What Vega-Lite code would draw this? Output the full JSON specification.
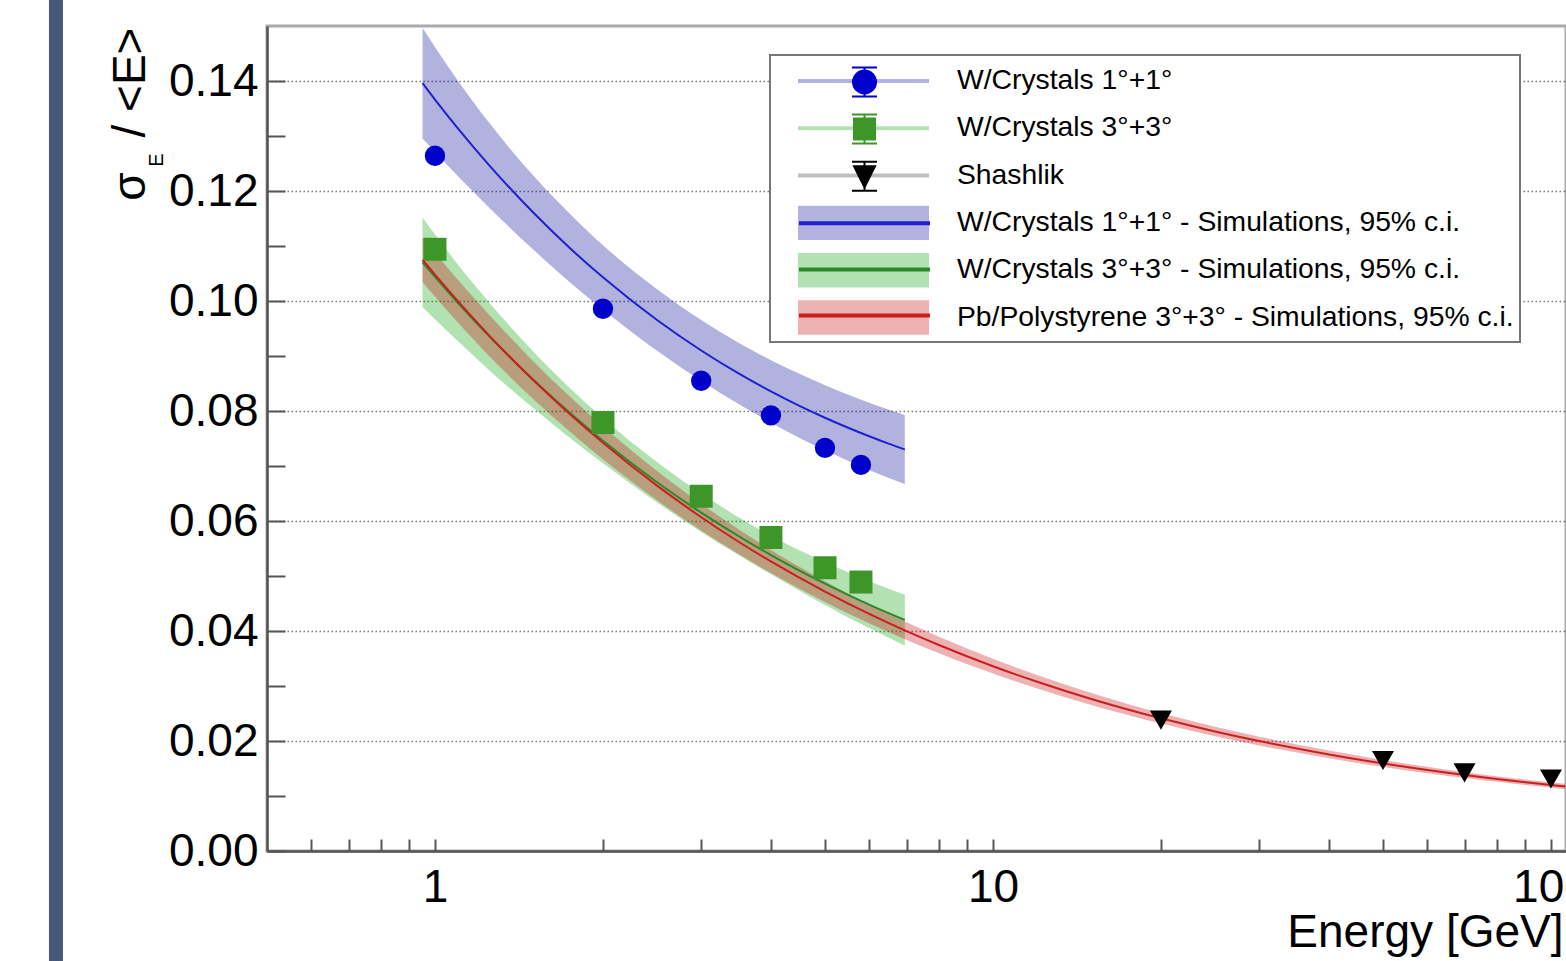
{
  "$schema": "https://vega.github.io/schema/vega-lite/v6.json",
  "width": 1299,
  "height": 825,
  "autosize": {"type": "none"},
  "padding": {"left": 267, "top": 26, "right": 0, "bottom": 110},
  "background": "white",
  "config": {
    "view": {"stroke": "#aaaaaa", "strokeWidth": 3},
    "axis": {
      "labelFont": "Liberation Sans", "titleFont": "Liberation Sans",
      "labelColor": "#000000", "titleColor": "#000000",
      "domainColor": "#555555", "domainWidth": 2.5,
      "tickColor": "#555555", "tickWidth": 2,
      "labelFontSize": 46, "titleFontSize": 46, "titleFontWeight": "normal"
    },
    "legend": {"labelFont": "Liberation Sans"}
  },
  "datasets": {
    "curves": [
      {"s": "W/Crystals 1°+1° - Simulations, 95% c.i.", "E": 0.95, "y": 0.1396, "lo": 0.12955, "hi": 0.14965},
      {"s": "W/Crystals 1°+1° - Simulations, 95% c.i.", "E": 1, "y": 0.13663, "lo": 0.12707, "hi": 0.14619},
      {"s": "W/Crystals 1°+1° - Simulations, 95% c.i.", "E": 1.1, "y": 0.13135, "lo": 0.12268, "hi": 0.14002},
      {"s": "W/Crystals 1°+1° - Simulations, 95% c.i.", "E": 1.25, "y": 0.12471, "lo": 0.11698, "hi": 0.13244},
      {"s": "W/Crystals 1°+1° - Simulations, 95% c.i.", "E": 1.5, "y": 0.11608, "lo": 0.10935, "hi": 0.12281},
      {"s": "W/Crystals 1°+1° - Simulations, 95% c.i.", "E": 1.75, "y": 0.1095, "lo": 0.10326, "hi": 0.11574},
      {"s": "W/Crystals 1°+1° - Simulations, 95% c.i.", "E": 2, "y": 0.1043, "lo": 0.09846, "hi": 0.11014},
      {"s": "W/Crystals 1°+1° - Simulations, 95% c.i.", "E": 2.5, "y": 0.09654, "lo": 0.09094, "hi": 0.10214},
      {"s": "W/Crystals 1°+1° - Simulations, 95% c.i.", "E": 3, "y": 0.091, "lo": 0.08545, "hi": 0.09655},
      {"s": "W/Crystals 1°+1° - Simulations, 95% c.i.", "E": 3.5, "y": 0.08683, "lo": 0.08127, "hi": 0.09239},
      {"s": "W/Crystals 1°+1° - Simulations, 95% c.i.", "E": 4, "y": 0.08356, "lo": 0.07788, "hi": 0.08924},
      {"s": "W/Crystals 1°+1° - Simulations, 95% c.i.", "E": 4.5, "y": 0.08093, "lo": 0.0751, "hi": 0.08676},
      {"s": "W/Crystals 1°+1° - Simulations, 95% c.i.", "E": 5, "y": 0.07877, "lo": 0.07286, "hi": 0.08468},
      {"s": "W/Crystals 1°+1° - Simulations, 95% c.i.", "E": 5.5, "y": 0.07695, "lo": 0.07095, "hi": 0.08295},
      {"s": "W/Crystals 1°+1° - Simulations, 95% c.i.", "E": 6, "y": 0.0754, "lo": 0.06929, "hi": 0.08151},
      {"s": "W/Crystals 1°+1° - Simulations, 95% c.i.", "E": 6.5, "y": 0.07406, "lo": 0.06784, "hi": 0.08028},
      {"s": "W/Crystals 1°+1° - Simulations, 95% c.i.", "E": 6.95, "y": 0.07301, "lo": 0.06673, "hi": 0.07929},
      {"s": "W/Crystals 3°+3° - Simulations, 95% c.i.", "E": 0.95, "y": 0.10704, "lo": 0.09891, "hi": 0.11518},
      {"s": "W/Crystals 3°+3° - Simulations, 95% c.i.", "E": 1, "y": 0.10439, "lo": 0.09667, "hi": 0.11212},
      {"s": "W/Crystals 3°+3° - Simulations, 95% c.i.", "E": 1.1, "y": 0.09963, "lo": 0.09266, "hi": 0.1066},
      {"s": "W/Crystals 3°+3° - Simulations, 95% c.i.", "E": 1.25, "y": 0.09361, "lo": 0.08743, "hi": 0.09979},
      {"s": "W/Crystals 3°+3° - Simulations, 95% c.i.", "E": 1.5, "y": 0.08568, "lo": 0.08054, "hi": 0.09082},
      {"s": "W/Crystals 3°+3° - Simulations, 95% c.i.", "E": 1.75, "y": 0.07953, "lo": 0.075, "hi": 0.08406},
      {"s": "W/Crystals 3°+3° - Simulations, 95% c.i.", "E": 2, "y": 0.07459, "lo": 0.07049, "hi": 0.07869},
      {"s": "W/Crystals 3°+3° - Simulations, 95% c.i.", "E": 2.5, "y": 0.06705, "lo": 0.06336, "hi": 0.07074},
      {"s": "W/Crystals 3°+3° - Simulations, 95% c.i.", "E": 3, "y": 0.06152, "lo": 0.05801, "hi": 0.06503},
      {"s": "W/Crystals 3°+3° - Simulations, 95% c.i.", "E": 3.5, "y": 0.05725, "lo": 0.05382, "hi": 0.06069},
      {"s": "W/Crystals 3°+3° - Simulations, 95% c.i.", "E": 4, "y": 0.05381, "lo": 0.05031, "hi": 0.05731},
      {"s": "W/Crystals 3°+3° - Simulations, 95% c.i.", "E": 4.5, "y": 0.05099, "lo": 0.04732, "hi": 0.05466},
      {"s": "W/Crystals 3°+3° - Simulations, 95% c.i.", "E": 5, "y": 0.04861, "lo": 0.04472, "hi": 0.0525},
      {"s": "W/Crystals 3°+3° - Simulations, 95% c.i.", "E": 5.5, "y": 0.04657, "lo": 0.04247, "hi": 0.05067},
      {"s": "W/Crystals 3°+3° - Simulations, 95% c.i.", "E": 6, "y": 0.0448, "lo": 0.04054, "hi": 0.04906},
      {"s": "W/Crystals 3°+3° - Simulations, 95% c.i.", "E": 6.5, "y": 0.04324, "lo": 0.03879, "hi": 0.04769},
      {"s": "W/Crystals 3°+3° - Simulations, 95% c.i.", "E": 6.95, "y": 0.042, "lo": 0.03738, "hi": 0.04662},
      {"s": "Pb/Polystyrene 3°+3° - Simulations, 95% c.i.", "E": 0.95, "y": 0.1075, "lo": 0.10341, "hi": 0.11159},
      {"s": "Pb/Polystyrene 3°+3° - Simulations, 95% c.i.", "E": 1, "y": 0.10479, "lo": 0.10081, "hi": 0.10877},
      {"s": "Pb/Polystyrene 3°+3° - Simulations, 95% c.i.", "E": 1.1, "y": 0.09993, "lo": 0.09603, "hi": 0.10383},
      {"s": "Pb/Polystyrene 3°+3° - Simulations, 95% c.i.", "E": 1.25, "y": 0.09376, "lo": 0.09001, "hi": 0.09751},
      {"s": "Pb/Polystyrene 3°+3° - Simulations, 95% c.i.", "E": 1.5, "y": 0.08563, "lo": 0.0822, "hi": 0.08906},
      {"s": "Pb/Polystyrene 3°+3° - Simulations, 95% c.i.", "E": 1.75, "y": 0.07931, "lo": 0.07614, "hi": 0.08248},
      {"s": "Pb/Polystyrene 3°+3° - Simulations, 95% c.i.", "E": 2, "y": 0.07421, "lo": 0.07124, "hi": 0.07718},
      {"s": "Pb/Polystyrene 3°+3° - Simulations, 95% c.i.", "E": 2.5, "y": 0.06643, "lo": 0.06377, "hi": 0.06909},
      {"s": "Pb/Polystyrene 3°+3° - Simulations, 95% c.i.", "E": 3, "y": 0.06069, "lo": 0.05826, "hi": 0.06312},
      {"s": "Pb/Polystyrene 3°+3° - Simulations, 95% c.i.", "E": 3.5, "y": 0.05623, "lo": 0.05398, "hi": 0.05848},
      {"s": "Pb/Polystyrene 3°+3° - Simulations, 95% c.i.", "E": 4, "y": 0.05264, "lo": 0.05053, "hi": 0.05475},
      {"s": "Pb/Polystyrene 3°+3° - Simulations, 95% c.i.", "E": 5, "y": 0.04716, "lo": 0.04527, "hi": 0.04905},
      {"s": "Pb/Polystyrene 3°+3° - Simulations, 95% c.i.", "E": 6, "y": 0.04311, "lo": 0.04139, "hi": 0.04483},
      {"s": "Pb/Polystyrene 3°+3° - Simulations, 95% c.i.", "E": 7, "y": 0.03998, "lo": 0.03838, "hi": 0.04158},
      {"s": "Pb/Polystyrene 3°+3° - Simulations, 95% c.i.", "E": 8, "y": 0.03745, "lo": 0.03595, "hi": 0.03895},
      {"s": "Pb/Polystyrene 3°+3° - Simulations, 95% c.i.", "E": 10, "y": 0.0336, "lo": 0.03226, "hi": 0.03494},
      {"s": "Pb/Polystyrene 3°+3° - Simulations, 95% c.i.", "E": 12, "y": 0.03077, "lo": 0.02954, "hi": 0.032},
      {"s": "Pb/Polystyrene 3°+3° - Simulations, 95% c.i.", "E": 15, "y": 0.02764, "lo": 0.02653, "hi": 0.02875},
      {"s": "Pb/Polystyrene 3°+3° - Simulations, 95% c.i.", "E": 20, "y": 0.02412, "lo": 0.02316, "hi": 0.02508},
      {"s": "Pb/Polystyrene 3°+3° - Simulations, 95% c.i.", "E": 25, "y": 0.02173, "lo": 0.02086, "hi": 0.0226},
      {"s": "Pb/Polystyrene 3°+3° - Simulations, 95% c.i.", "E": 30, "y": 0.01999, "lo": 0.01919, "hi": 0.02079},
      {"s": "Pb/Polystyrene 3°+3° - Simulations, 95% c.i.", "E": 40, "y": 0.01756, "lo": 0.01686, "hi": 0.01826},
      {"s": "Pb/Polystyrene 3°+3° - Simulations, 95% c.i.", "E": 50, "y": 0.01592, "lo": 0.01528, "hi": 0.01656},
      {"s": "Pb/Polystyrene 3°+3° - Simulations, 95% c.i.", "E": 60, "y": 0.01473, "lo": 0.01414, "hi": 0.01532},
      {"s": "Pb/Polystyrene 3°+3° - Simulations, 95% c.i.", "E": 70, "y": 0.01382, "lo": 0.01327, "hi": 0.01437},
      {"s": "Pb/Polystyrene 3°+3° - Simulations, 95% c.i.", "E": 80, "y": 0.01309, "lo": 0.01257, "hi": 0.01361},
      {"s": "Pb/Polystyrene 3°+3° - Simulations, 95% c.i.", "E": 90, "y": 0.01249, "lo": 0.01199, "hi": 0.01299},
      {"s": "Pb/Polystyrene 3°+3° - Simulations, 95% c.i.", "E": 100, "y": 0.012, "lo": 0.01152, "hi": 0.01248},
      {"s": "Pb/Polystyrene 3°+3° - Simulations, 95% c.i.", "E": 106, "y": 0.01174, "lo": 0.01127, "hi": 0.01221}
    ],
    "points": [
      {"s": "W/Crystals 1°+1°", "E": 1, "y": 0.1264},
      {"s": "W/Crystals 1°+1°", "E": 2, "y": 0.0986},
      {"s": "W/Crystals 1°+1°", "E": 3, "y": 0.0855},
      {"s": "W/Crystals 1°+1°", "E": 4, "y": 0.0792},
      {"s": "W/Crystals 1°+1°", "E": 5, "y": 0.0733},
      {"s": "W/Crystals 1°+1°", "E": 5.8, "y": 0.0702},
      {"s": "W/Crystals 3°+3°", "E": 1, "y": 0.1094},
      {"s": "W/Crystals 3°+3°", "E": 2, "y": 0.0779},
      {"s": "W/Crystals 3°+3°", "E": 3, "y": 0.0645},
      {"s": "W/Crystals 3°+3°", "E": 4, "y": 0.057},
      {"s": "W/Crystals 3°+3°", "E": 5, "y": 0.0515},
      {"s": "W/Crystals 3°+3°", "E": 5.8, "y": 0.0489},
      {"s": "Shashlik", "E": 20, "y": 0.0238},
      {"s": "Shashlik", "E": 50, "y": 0.01645},
      {"s": "Shashlik", "E": 70, "y": 0.0142},
      {"s": "Shashlik", "E": 100, "y": 0.0131}
    ]
  },
  "layer": [
    {
      "data": {"name": "curves"},
      "transform": [{"filter": {"field": "s", "equal": "W/Crystals 1°+1° - Simulations, 95% c.i."}}],
      "mark": {"type": "area", "fillOpacity": 0.3, "interpolate": "monotone"},
      "encoding": {
        "x": {"field": "E", "type": "quantitative",
          "scale": {"type": "log", "domain": [0.5, 106.4], "nice": false},
          "axis": {
            "values": [0.6, 0.7, 0.8, 0.9, 1, 2, 3, 4, 5, 6, 7, 8, 9, 10, 20, 30, 40, 50, 60, 70, 80, 90, 100],
            "labelExpr": "(datum.value == 1 || datum.value == 10 || datum.value == 100) ? '' + datum.value : ''",
            "tickSize": -12, "labelPadding": 26, "labelOverlap": false, "labelFlush": false, "labelBaseline": "top",
            "grid": false,
            "title": "Energy [GeV]", "titleAnchor": "end", "titleAlign": "right", "titleX": 1296, "titleY": 95, "titleBaseline": "alphabetic",
            "encode": {"ticks": {"update": {"y2": {"signal": "(datum.value == 1 || datum.value == 10 || datum.value == 100) ? -24 : -12"}}}}
          }
        },
        "y": {"field": "lo", "type": "quantitative",
          "scale": {"domain": [0, 0.15], "nice": false, "zero": false},
          "axis": {
            "values": [0, 0.005, 0.01, 0.015, 0.02, 0.025, 0.03, 0.035, 0.04, 0.045, 0.05, 0.055, 0.06, 0.065, 0.07, 0.075, 0.08, 0.085, 0.09, 0.095, 0.1, 0.105, 0.11, 0.115, 0.12, 0.125, 0.13, 0.135, 0.14, 0.145],
            "labelExpr": "abs(datum.value*50 - round(datum.value*50)) < 0.001 ? format(datum.value, '.2f') : ''",
            "tickSize": -18, "labelPadding": 27, "labelOverlap": false, "labelFlush": false,
            "grid": true, "gridColor": "#777777", "gridDash": [1.5, 2.5], "gridWidth": 1.4,
            "gridOpacity": {"condition": {"test": "abs(datum.value*50 - round(datum.value*50)) < 0.001", "value": 1}, "value": 0},
            "title": "σ\u00a0\u00a0\u2009/ <E>", "titleX": -123, "titleY": 1, "titleAngle": 270, "titleAlign": "right", "titleBaseline": "alphabetic",
            "encode": {"ticks": {"update": {"x2": {"signal": "abs(datum.value*50 - round(datum.value*50)) < 0.001 ? 37 : 18"}}}}
          }
        },
        "y2": {"field": "hi"},
        "fill": {"field": "s", "type": "nominal",
          "scale": {
            "domain": ["W/Crystals 1°+1°", "W/Crystals 3°+3°", "Shashlik", "W/Crystals 1°+1° - Simulations, 95% c.i.", "W/Crystals 3°+3° - Simulations, 95% c.i.", "Pb/Polystyrene 3°+3° - Simulations, 95% c.i."],
            "range": ["#0000b4", "#00a000", "#282828", "#000096", "#00a000", "#c80000"]
          },
          "legend": {
            "title": null, "orient": "none", "legendX": 503, "legendY": 29, "direction": "vertical",
            "padding": 6, "rowPadding": 9.3, "symbolSize": 1600, "symbolStrokeWidth": 2, "symbolOffset": 67.5,
            "labelFontSize": 28.3, "labelFont": "Liberation Sans", "labelColor": "#000000", "labelLimit": 1000, "labelOffset": 73.5,
            "fillColor": "white", "strokeColor": "#777777", "zindex": 1,
            "encode": {
              "symbols": {"update": {
                "shape": {"signal": "datum.index < 3 ? 'M-3.275,-0.885M-3.275,0.885M-3.275,-0.1H3.275V0.1H-3.275Z' : 'M-3.275,-0.885M-3.275,0.885M-3.275,-0.86H3.275V0.86H-3.275Z'"},
                "fill": {"scale": "fill", "field": "value"},
                "fillOpacity": {"value": 0.3},
                "opacity": {"value": 1},
                "stroke": {"value": "transparent"},
                "strokeWidth": {"value": 0}
              }},
              "legend": {"update": {"strokeWidth": {"value": 2}}}
            }
          }
        }
      }
    },
    {
      "data": {"name": "curves"},
      "transform": [{"filter": {"field": "s", "equal": "W/Crystals 3°+3° - Simulations, 95% c.i."}}],
      "mark": {"type": "area", "fillOpacity": 0.3, "interpolate": "monotone"},
      "encoding": {
        "x": {"field": "E", "type": "quantitative", "scale": {"type": "log", "domain": [0.5, 106.4], "nice": false}},
        "y": {"field": "lo", "type": "quantitative", "scale": {"domain": [0, 0.15], "nice": false, "zero": false}},
        "y2": {"field": "hi"},
        "fill": {"field": "s", "type": "nominal"}
      }
    },
    {
      "data": {"name": "curves"},
      "transform": [{"filter": {"field": "s", "equal": "Pb/Polystyrene 3°+3° - Simulations, 95% c.i."}}],
      "mark": {"type": "area", "fillOpacity": 0.3, "interpolate": "monotone"},
      "encoding": {
        "x": {"field": "E", "type": "quantitative", "scale": {"type": "log", "domain": [0.5, 106.4], "nice": false}},
        "y": {"field": "lo", "type": "quantitative", "scale": {"domain": [0, 0.15], "nice": false, "zero": false}},
        "y2": {"field": "hi"},
        "fill": {"field": "s", "type": "nominal"}
      }
    },
    {
      "data": {"name": "curves"},
      "transform": [{"filter": {"field": "s", "equal": "W/Crystals 1°+1° - Simulations, 95% c.i."}}],
      "mark": {"type": "line", "strokeWidth": 2, "interpolate": "monotone"},
      "encoding": {
        "x": {"field": "E", "type": "quantitative", "scale": {"type": "log", "domain": [0.5, 106.4], "nice": false}},
        "y": {"field": "y", "type": "quantitative", "scale": {"domain": [0, 0.15], "nice": false, "zero": false}},
        "stroke": {"field": "s", "type": "nominal",
          "scale": {
            "domain": ["W/Crystals 1°+1°", "W/Crystals 3°+3°", "Shashlik", "W/Crystals 1°+1° - Simulations, 95% c.i.", "W/Crystals 3°+3° - Simulations, 95% c.i.", "Pb/Polystyrene 3°+3° - Simulations, 95% c.i.", "·"],
            "range": ["#0000cc", "#3c9628", "#000000", "#2020d0", "#2a8a2a", "#c82020", "#ffffff"]
          },
          "legend": {
            "title": null, "orient": "none", "legendX": 503, "legendY": 29, "direction": "vertical",
            "values": ["W/Crystals 1°+1°", "W/Crystals 3°+3°", "Shashlik", "W/Crystals 1°+1° - Simulations, 95% c.i.", "W/Crystals 3°+3° - Simulations, 95% c.i.", "Pb/Polystyrene 3°+3° - Simulations, 95% c.i."],
            "padding": 6, "rowPadding": 6.1, "symbolSize": 1600, "symbolStrokeWidth": 2, "symbolOffset": 67.5,
            "labelFontSize": 28.3, "labelFont": "Liberation Sans", "labelLimit": 1000, "labelOffset": 73.5, "labelExpr": "''",
            "zindex": 2,
            "encode": {
              "symbols": {"update": {
                "shape": {"signal": "['M0,-0.785M0,0.785M-0.575,0A0.575,0.575,0,1,0,0.575,0A0.575,0.575,0,1,0,-0.575,0ZM0,-0.725V-0.575M0,0.575V0.725M-0.625,-0.725H0.625M-0.625,0.725H0.625', 'M0,-0.785M0,0.785M-0.525,-0.525H0.525V0.525H-0.525ZM0,-0.725V-0.525M0,0.525V0.725M-0.625,-0.725H0.625M-0.625,0.725H0.625', 'M0,-0.785M0,0.785M-0.525,-0.5H0.525L0,0.55ZM0,-0.725V-0.5M0,0.55V0.725M-0.625,-0.725H0.625M-0.625,0.725H0.625', 'M0,-0.725L0,-0.725M0,0.725L0,0.725M-3.225,-0.05H3.225V0.05H-3.225Z', 'M0,-0.725L0,-0.725M0,0.725L0,0.725M-3.225,-0.05H3.225V0.05H-3.225Z', 'M0,-0.725L0,-0.725M0,0.725L0,0.725M-3.225,-0.05H3.225V0.05H-3.225Z'][datum.index]"},
                "fill": {"signal": "['#0000cc', '#3c9628', '#000000', '#2020d0', '#2a8a2a', '#c82020'][datum.index]"},
                "stroke": {"signal": "['#0000cc', '#3c9628', '#000000', '#2020d0', '#2a8a2a', '#c82020'][datum.index]"},
                "strokeWidth": {"value": 2},
                "strokeCap": {"value": "butt"},
                "fillOpacity": {"value": 1},
                "strokeOpacity": {"value": 1},
                "opacity": {"value": 1}
              }}
            }
          }
        }
      }
    },
    {
      "data": {"name": "curves"},
      "transform": [{"filter": {"field": "s", "equal": "W/Crystals 3°+3° - Simulations, 95% c.i."}}],
      "mark": {"type": "line", "strokeWidth": 2, "interpolate": "monotone"},
      "encoding": {
        "x": {"field": "E", "type": "quantitative", "scale": {"type": "log", "domain": [0.5, 106.4], "nice": false}},
        "y": {"field": "y", "type": "quantitative", "scale": {"domain": [0, 0.15], "nice": false, "zero": false}},
        "stroke": {"field": "s", "type": "nominal"}
      }
    },
    {
      "data": {"name": "curves"},
      "transform": [{"filter": {"field": "s", "equal": "Pb/Polystyrene 3°+3° - Simulations, 95% c.i."}}],
      "mark": {"type": "line", "strokeWidth": 2, "interpolate": "monotone"},
      "encoding": {
        "x": {"field": "E", "type": "quantitative", "scale": {"type": "log", "domain": [0.5, 106.4], "nice": false}},
        "y": {"field": "y", "type": "quantitative", "scale": {"domain": [0, 0.15], "nice": false, "zero": false}},
        "stroke": {"field": "s", "type": "nominal"}
      }
    },
    {
      "data": {"name": "points"},
      "transform": [{"filter": {"field": "s", "equal": "W/Crystals 1°+1°"}}],
      "mark": {"type": "point", "shape": "circle", "filled": true, "color": "#0000cc", "size": 415, "opacity": 1},
      "encoding": {
        "x": {"field": "E", "type": "quantitative", "scale": {"type": "log", "domain": [0.5, 106.4], "nice": false}},
        "y": {"field": "y", "type": "quantitative", "scale": {"domain": [0, 0.15], "nice": false, "zero": false}}
      }
    },
    {
      "data": {"name": "points"},
      "transform": [{"filter": {"field": "s", "equal": "W/Crystals 3°+3°"}}],
      "mark": {"type": "point", "shape": "square", "filled": true, "color": "#3c9628", "size": 529, "opacity": 1},
      "encoding": {
        "x": {"field": "E", "type": "quantitative", "scale": {"type": "log", "domain": [0.5, 106.4], "nice": false}},
        "y": {"field": "y", "type": "quantitative", "scale": {"domain": [0, 0.15], "nice": false, "zero": false}}
      }
    },
    {
      "data": {"name": "points"},
      "transform": [{"filter": {"field": "s", "equal": "Shashlik"}}],
      "mark": {"type": "point", "shape": "triangle-down", "filled": true, "color": "#000000", "size": 484, "opacity": 1},
      "encoding": {
        "x": {"field": "E", "type": "quantitative", "scale": {"type": "log", "domain": [0.5, 106.4], "nice": false}},
        "y": {"field": "y", "type": "quantitative", "scale": {"domain": [0, 0.15], "nice": false, "zero": false}}
      }
    },
    {
      "data": {"values": [{"t": "E"}]},
      "mark": {"type": "text", "angle": 270, "font": "Liberation Sans", "fontSize": 20, "align": "center", "baseline": "alphabetic", "color": "#000000"},
      "encoding": {
        "x": {"datum": 0.3255, "type": "quantitative", "scale": {"type": "log", "domain": [0.5, 106.4], "nice": false}},
        "y": {"datum": 0.12564, "type": "quantitative", "scale": {"domain": [0, 0.15], "nice": false, "zero": false}},
        "text": {"field": "t"}
      }
    },
    {
      "data": {"values": [{"t": "bar"}]},
      "mark": {"type": "rule", "color": "#46577a", "strokeWidth": 14, "strokeCap": "butt"},
      "encoding": {
        "x": {"datum": 0.2093, "type": "quantitative", "scale": {"type": "log", "domain": [0.5, 106.4], "nice": false}},
        "y": {"datum": -0.03, "type": "quantitative", "scale": {"domain": [0, 0.15], "nice": false, "zero": false}},
        "y2": {"datum": 0.17}
      }
    }
  ]
}
